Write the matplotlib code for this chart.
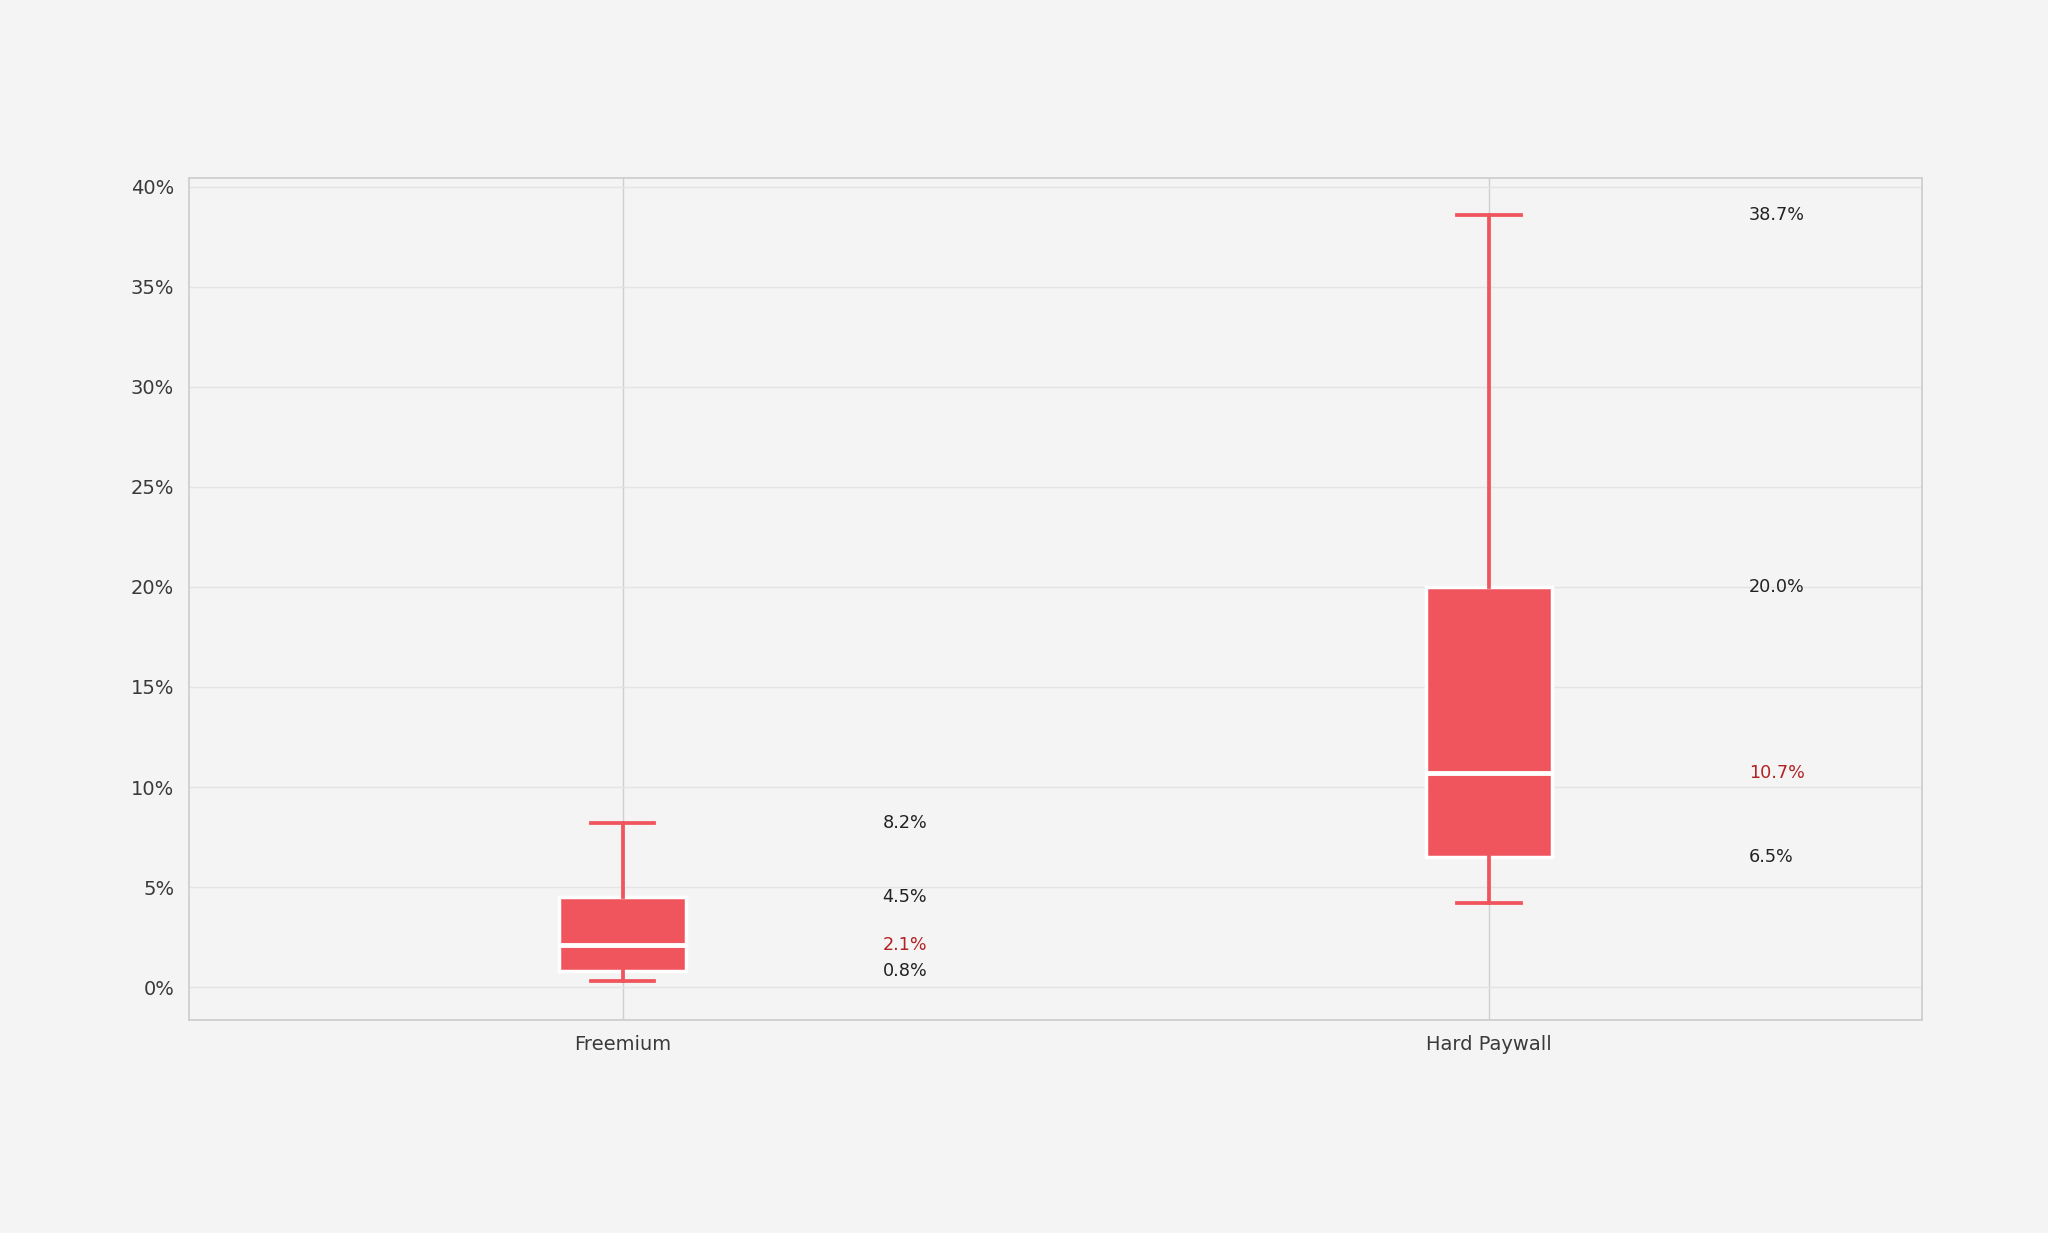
import matplotlib.pyplot as plt
from matplotlib.ticker import FuncFormatter

categories = ['Freemium', 'Hard Paywall']
whislo = [0.3, 4.2]
q1 = [0.8, 6.5]
med = [2.1, 10.7]
q3 = [4.5, 20.0]
whishi = [8.2, 38.6]
labels_top = [8.2, 38.7]

bg = '#f4f4f4'
red = '#f0545c'

fig = plt.figure(figsize=(20.48, 12.33), dpi=100, facecolor=bg)
ax = fig.add_axes([0.0925, 0.173, 0.846, 0.683])
ax.set_facecolor(bg)

stats = []
for i, name in enumerate(categories):
    stats.append({'label': name, 'whislo': whislo[i], 'q1': q1[i], 'med': med[i],
                  'q3': q3[i], 'whishi': whishi[i], 'fliers': []})

ax.bxp(stats, positions=range(len(categories)), widths=0.146, patch_artist=True,
       showfliers=False,
       boxprops=dict(facecolor=red, edgecolor='white', linewidth=2.5),
       medianprops=dict(color='white', linewidth=3.5),
       whiskerprops=dict(color=red, linewidth=2.7),
       capprops=dict(color=red, linewidth=2.7))

# value labels next to each box
for i in range(len(categories)):
    x = i + 0.3
    ax.text(x, whishi[i], f'{labels_top[i]:.1f}%', va='center', ha='left', fontsize=12.7, color='#222222')
    ax.text(x, q3[i], f'{q3[i]:.1f}%', va='center', ha='left', fontsize=12.7, color='#222222')
    ax.text(x, med[i], f'{med[i]:.1f}%', va='center', ha='left', fontsize=12.7, color='#b22222')
    ax.text(x, q1[i], f'{q1[i]:.1f}%', va='center', ha='left', fontsize=12.7, color='#222222')

ax.set_xlim(-0.5, 1.5)
ax.set_ylim(-1.62, 40.45)
ax.set_yticks(range(0, 41, 5))
ax.yaxis.set_major_formatter(FuncFormatter(lambda v, p: f'{v:.0f}%'))
ax.set_xticks(range(len(categories)))
ax.set_xticklabels(categories)

ax.grid(True, axis='y', color='#e4e4e4', linewidth=1)
ax.grid(True, axis='x', color='#d0d0d0', linewidth=1)
ax.set_axisbelow(True)
for s in ax.spines.values():
    s.set_color('#cccccc')
    s.set_linewidth(1.2)
ax.tick_params(length=0, labelsize=14, colors='#3a3a3a', pad=11)

fig.savefig('out.png', dpi=100, facecolor=bg)
